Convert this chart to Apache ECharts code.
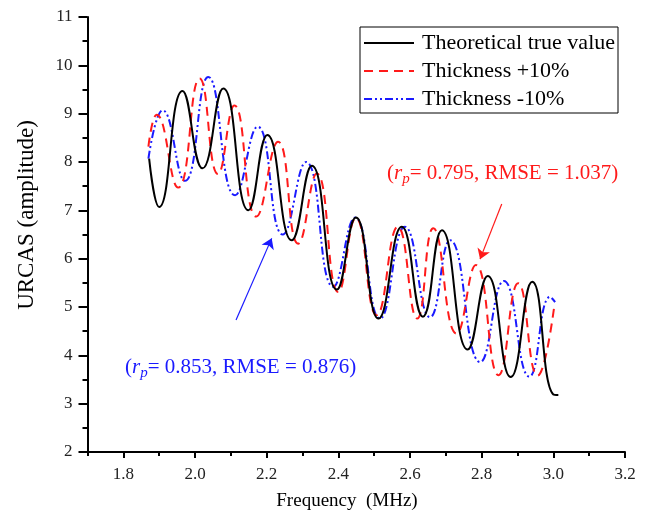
<!DOCTYPE html>
<html>
<head>
<meta charset="utf-8">
<script src="https://cdn.jsdelivr.net/npm/echarts@6/dist/echarts.min.js"></script>
<style>html,body{margin:0;padding:0;background:#fff}#c{width:650px;height:521px}</style>
</head>
<body>
<div id="c"></div>
<script>
// ---- data ----
const theoretical = [
  [1.872, 8.07], [1.900, 7.07], [1.965, 9.47], [2.021, 7.87], [2.079, 9.52],
  [2.149, 7.00], [2.202, 8.56], [2.270, 6.38], [2.326, 7.92], [2.396, 5.36],
  [2.449, 6.85], [2.512, 4.76], [2.577, 6.66], [2.636, 4.80], [2.689, 6.59],
  [2.761, 4.12], [2.817, 5.64], [2.881, 3.55], [2.941, 5.52], [3.000, 3.19],
  [3.014, 3.18]
];
const thickPlus10 = [
  [1.870, 8.32], [1.893, 8.98], [1.953, 7.47], [2.013, 9.73], [2.064, 7.75],
  [2.110, 9.17], [2.171, 6.87], [2.232, 8.42], [2.288, 6.31], [2.340, 7.76],
  [2.400, 5.31], [2.449, 6.84], [2.507, 4.83], [2.566, 6.66], [2.620, 4.76],
  [2.665, 6.63], [2.730, 4.45], [2.784, 5.87], [2.847, 3.59], [2.902, 5.49],
  [2.956, 3.58], [3.003, 5.04]
];
const thickMinus10 = [
  [1.870, 8.07], [1.910, 9.07], [1.972, 7.61], [2.037, 9.76], [2.112, 7.31],
  [2.175, 8.73], [2.245, 6.50], [2.310, 8.00], [2.386, 5.42], [2.447, 6.85],
  [2.516, 4.76], [2.586, 6.66], [2.656, 4.79], [2.712, 6.38], [2.796, 3.86],
  [2.862, 5.54], [2.933, 3.56], [2.991, 5.21], [3.005, 5.10]
];
const seriesNames = ['Theoretical true value', 'Thickness +10%', 'Thickness -10%'];
const xTicks = [1.8, 2.0, 2.2, 2.4, 2.6, 2.8, 3.0, 3.2];
const xMinorTicks = [1.7, 1.9, 2.1, 2.3, 2.5, 2.7, 2.9, 3.1];
const blueArrow = [[2.1145, 4.73], [2.214, 6.42]];
const redArrow = [[2.856, 7.13], [2.7955, 5.99]];
const blueNote = ['0.853', '0.876'];
const redNote = ['0.795', '1.037'];

// ---- chart ----
const FF = 'Liberation Serif';
const chart = echarts.init(document.getElementById('c'), null, {renderer: 'canvas'});

function noteText(v) {
  return '{a|(}{i|r}{s|p}{a|= ' + v[0] + ', RMSE = ' + v[1] + ')}';
}
function noteRich(color) {
  return {
    a: {fontFamily: FF, fontSize: 21, fill: color, color: color},
    i: {fontFamily: FF, fontSize: 21, fontStyle: 'italic', fill: color, color: color},
    s: {fontFamily: FF, fontSize: 15, fontStyle: 'italic', fill: color, color: color, padding: [12, 0, 0, 0]}
  };
}

const option = {
  animation: false,
  backgroundColor: '#fff',
  grid: {left: 87.5, right: 25, top: 17, bottom: 69},
  legend: {
    left: 360, top: 27,
    orient: 'vertical',
    itemWidth: 50, itemHeight: 14, itemGap: 6,
    padding: [5, 3, 3, 3],
    borderColor: '#000', borderWidth: 1,
    itemStyle: {opacity: 0},
    textStyle: {fontFamily: FF, fontSize: 22, color: '#000', lineHeight: 22, padding: [0, 0, 0, 3]},
    data: seriesNames
  },
  xAxis: [{
    type: 'value', min: 1.7, max: 3.2,
    axisLine: {lineStyle: {color: '#000', width: 2}},
    axisTick: {show: true, customValues: xTicks, length: 6, lineStyle: {color: '#000', width: 2}},
    axisLabel: {customValues: xTicks, formatter: v => Number(v).toFixed(1), fontFamily: FF, fontSize: 17, color: '#222', margin: 14},
    splitLine: {show: false}
  }, {
    type: 'value', min: 1.7, max: 3.2, position: 'bottom',
    axisLine: {show: false},
    axisTick: {show: true, customValues: xMinorTicks, length: 4, lineStyle: {color: '#000', width: 2}},
    axisLabel: {show: false},
    splitLine: {show: false}
  }],
  yAxis: {
    type: 'value', min: 2, max: 11, interval: 1,
    axisLine: {show: true, lineStyle: {color: '#000', width: 2}},
    axisTick: {show: true, length: 9, lineStyle: {color: '#000', width: 2}},
    minorTick: {show: true, splitNumber: 2, length: 5, lineStyle: {color: '#000', width: 2}},
    axisLabel: {fontFamily: FF, fontSize: 17, color: '#222', margin: 15},
    splitLine: {show: false}
  },
  series: [{
    name: seriesNames[0], type: 'line', data: theoretical, smooth: 0.5,
    symbol: 'none', showSymbol: false,
    lineStyle: {color: '#000', width: 2, type: 'solid'},
    itemStyle: {color: '#000'},
    z: 5,
    markLine: {
      silent: true, symbol: ['none', 'arrow'], symbolSize: 10, animation: false,
      label: {show: false},
      data: [
        [{coord: blueArrow[0], lineStyle: {color: '#1a1aff', width: 1.2, type: 'solid'}, itemStyle: {color: '#1a1aff'}},
         {coord: blueArrow[1]}],
        [{coord: redArrow[0], lineStyle: {color: '#ff1a1a', width: 1.2, type: 'solid'}, itemStyle: {color: '#ff1a1a'}},
         {coord: redArrow[1]}]
      ]
    }
  }, {
    name: seriesNames[1], type: 'line', data: thickPlus10, smooth: 0.5,
    symbol: 'none', showSymbol: false,
    lineStyle: {color: '#ff1a1a', width: 2, type: [9, 6]},
    itemStyle: {color: '#ff1a1a'},
    z: 4
  }, {
    name: seriesNames[2], type: 'line', data: thickMinus10, smooth: 0.5,
    symbol: 'none', showSymbol: false,
    lineStyle: {color: '#1a1aff', width: 2, type: [8, 3, 2, 3, 2, 3]},
    itemStyle: {color: '#1a1aff'},
    z: 3
  }],
  graphic: [{
    type: 'text', x: 27, y: 215, rotation: Math.PI / 2,
    style: {text: 'URCAS (amplitude)', fontFamily: FF, fontSize: 23, fill: '#000', textAlign: 'center', textVerticalAlign: 'middle'}
  }, {
    type: 'text', x: 347, y: 501,
    style: {text: 'Frequency  (MHz)', fontFamily: FF, fontSize: 19, fill: '#000', textAlign: 'center', textVerticalAlign: 'middle'}
  }, {
    type: 'text', x: 125, y: 367,
    style: {text: noteText(blueNote), rich: noteRich('#1a1aff'), textAlign: 'left', textVerticalAlign: 'middle'}
  }, {
    type: 'text', x: 387, y: 173,
    style: {text: noteText(redNote), rich: noteRich('#ff1a1a'), textAlign: 'left', textVerticalAlign: 'middle'}
  }]
};
chart.setOption(option);
</script>
</body>
</html>
